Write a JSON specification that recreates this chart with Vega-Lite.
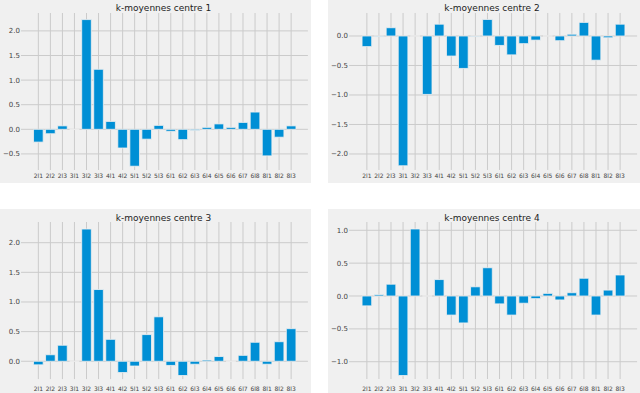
{
  "$schema": "https://vega.github.io/schema/vega-lite/v6.json",
  "background": "white",
  "padding": 0,
  "columns": 2,
  "spacing": {"row": 26, "column": 17},
  "bounds": "flush",
  "datasets": {
    "km": [
      {"centre": 1, "var": "2l1", "value": -0.26}, {"centre": 1, "var": "2l2", "value": -0.09}, {"centre": 1, "var": "2l3", "value": 0.07},
      {"centre": 1, "var": "3l1", "value": 0}, {"centre": 1, "var": "3l2", "value": 2.23}, {"centre": 1, "var": "3l3", "value": 1.22},
      {"centre": 1, "var": "4l1", "value": 0.16}, {"centre": 1, "var": "4l2", "value": -0.38}, {"centre": 1, "var": "5l1", "value": -0.75},
      {"centre": 1, "var": "5l2", "value": -0.2}, {"centre": 1, "var": "5l3", "value": 0.08}, {"centre": 1, "var": "6l1", "value": -0.04},
      {"centre": 1, "var": "6l2", "value": -0.21}, {"centre": 1, "var": "6l3", "value": -0.02}, {"centre": 1, "var": "6l4", "value": 0.04},
      {"centre": 1, "var": "6l5", "value": 0.11}, {"centre": 1, "var": "6l6", "value": 0.04}, {"centre": 1, "var": "6l7", "value": 0.14},
      {"centre": 1, "var": "6l8", "value": 0.35}, {"centre": 1, "var": "8l1", "value": -0.54}, {"centre": 1, "var": "8l2", "value": -0.16},
      {"centre": 1, "var": "8l3", "value": 0.07},
      {"centre": 2, "var": "2l1", "value": -0.18}, {"centre": 2, "var": "2l2", "value": -0.01}, {"centre": 2, "var": "2l3", "value": 0.14},
      {"centre": 2, "var": "3l1", "value": -2.2}, {"centre": 2, "var": "3l2", "value": 0}, {"centre": 2, "var": "3l3", "value": -0.99},
      {"centre": 2, "var": "4l1", "value": 0.2}, {"centre": 2, "var": "4l2", "value": -0.34}, {"centre": 2, "var": "5l1", "value": -0.55},
      {"centre": 2, "var": "5l2", "value": -0.01}, {"centre": 2, "var": "5l3", "value": 0.28}, {"centre": 2, "var": "6l1", "value": -0.16},
      {"centre": 2, "var": "6l2", "value": -0.32}, {"centre": 2, "var": "6l3", "value": -0.13}, {"centre": 2, "var": "6l4", "value": -0.07},
      {"centre": 2, "var": "6l5", "value": 0}, {"centre": 2, "var": "6l6", "value": -0.08}, {"centre": 2, "var": "6l7", "value": 0.03},
      {"centre": 2, "var": "6l8", "value": 0.23}, {"centre": 2, "var": "8l1", "value": -0.41}, {"centre": 2, "var": "8l2", "value": -0.03},
      {"centre": 2, "var": "8l3", "value": 0.2},
      {"centre": 3, "var": "2l1", "value": -0.06}, {"centre": 3, "var": "2l2", "value": 0.11}, {"centre": 3, "var": "2l3", "value": 0.27},
      {"centre": 3, "var": "3l1", "value": 0}, {"centre": 3, "var": "3l2", "value": 2.23}, {"centre": 3, "var": "3l3", "value": 1.21},
      {"centre": 3, "var": "4l1", "value": 0.37}, {"centre": 3, "var": "4l2", "value": -0.19}, {"centre": 3, "var": "5l1", "value": -0.08},
      {"centre": 3, "var": "5l2", "value": 0.45}, {"centre": 3, "var": "5l3", "value": 0.75}, {"centre": 3, "var": "6l1", "value": -0.07},
      {"centre": 3, "var": "6l2", "value": -0.24}, {"centre": 3, "var": "6l3", "value": -0.05}, {"centre": 3, "var": "6l4", "value": 0.02},
      {"centre": 3, "var": "6l5", "value": 0.08}, {"centre": 3, "var": "6l6", "value": 0}, {"centre": 3, "var": "6l7", "value": 0.1},
      {"centre": 3, "var": "6l8", "value": 0.32}, {"centre": 3, "var": "8l1", "value": -0.05}, {"centre": 3, "var": "8l2", "value": 0.33},
      {"centre": 3, "var": "8l3", "value": 0.55},
      {"centre": 4, "var": "2l1", "value": -0.15}, {"centre": 4, "var": "2l2", "value": 0.02}, {"centre": 4, "var": "2l3", "value": 0.18},
      {"centre": 4, "var": "3l1", "value": -1.21}, {"centre": 4, "var": "3l2", "value": 1.02}, {"centre": 4, "var": "3l3", "value": 0},
      {"centre": 4, "var": "4l1", "value": 0.25}, {"centre": 4, "var": "4l2", "value": -0.29}, {"centre": 4, "var": "5l1", "value": -0.41},
      {"centre": 4, "var": "5l2", "value": 0.14}, {"centre": 4, "var": "5l3", "value": 0.43}, {"centre": 4, "var": "6l1", "value": -0.12},
      {"centre": 4, "var": "6l2", "value": -0.29}, {"centre": 4, "var": "6l3", "value": -0.11}, {"centre": 4, "var": "6l4", "value": -0.04},
      {"centre": 4, "var": "6l5", "value": 0.04}, {"centre": 4, "var": "6l6", "value": -0.06}, {"centre": 4, "var": "6l7", "value": 0.05},
      {"centre": 4, "var": "6l8", "value": 0.27}, {"centre": 4, "var": "8l1", "value": -0.29}, {"centre": 4, "var": "8l2", "value": 0.09},
      {"centre": 4, "var": "8l3", "value": 0.32}
    ],
    "ticks": [
      {"centre": 1, "tick": -0.5}, {"centre": 1, "tick": 0}, {"centre": 1, "tick": 0.5}, {"centre": 1, "tick": 1}, {"centre": 1, "tick": 1.5}, {"centre": 1, "tick": 2},
      {"centre": 2, "tick": -2}, {"centre": 2, "tick": -1.5}, {"centre": 2, "tick": -1}, {"centre": 2, "tick": -0.5}, {"centre": 2, "tick": 0},
      {"centre": 3, "tick": 0}, {"centre": 3, "tick": 0.5}, {"centre": 3, "tick": 1}, {"centre": 3, "tick": 1.5}, {"centre": 3, "tick": 2},
      {"centre": 4, "tick": -1}, {"centre": 4, "tick": -0.5}, {"centre": 4, "tick": 0}, {"centre": 4, "tick": 0.5}, {"centre": 4, "tick": 1}
    ]
  },
  "concat": [
    {
      "width": 311, "height": 183,
      "title": {"text": "k-moyennes centre 1", "offset": -12.5},
      "layer": [
        {"data": {"name": "km"}, "transform": [{"filter": "datum.centre == 1"}],
         "mark": {"type": "rule", "color": "#cbcbcb", "strokeWidth": 1},
         "encoding": {"x": {"field": "var", "type": "nominal", "title": null,
                            "scale": {"domain": ["2l1","2l2","2l3","3l1","3l2","3l3","4l1","4l2","5l1","5l2","5l3","6l1","6l2","6l3","6l4","6l5","6l6","6l7","6l8","8l1","8l2","8l3"], "range": [21.5, 308], "paddingInner": 0.2, "paddingOuter": 1, "align": 0.5}},
                      "y": {"datum": 2.364, "axis": {"values": [-0.5, 0, 0.5, 1, 1.5, 2], "format": ".1f", "offset": -19.5, "labelOverlap": false}},
                      "y2": {"datum": -0.827}}},
        {"data": {"name": "ticks"}, "transform": [{"filter": "datum.centre == 1"}],
         "mark": {"type": "rule", "color": "#cbcbcb", "strokeWidth": 1},
         "encoding": {"y": {"field": "tick", "type": "quantitative", "title": null,
                            "axis": {"values": [-0.5, 0, 0.5, 1, 1.5, 2], "format": ".1f", "offset": -19.5, "labelOverlap": false}},
                      "x": {"datum": "2l1", "bandPosition": -1.3}, "x2": {"datum": "8l3", "bandPosition": 2.24}}},
        {"data": {"name": "km"}, "transform": [{"filter": "datum.centre == 1"}],
         "mark": {"type": "bar", "color": "#008fd5", "stroke": "#f0f0f0", "strokeWidth": 0.8},
         "encoding": {
           "x": {"field": "var", "type": "nominal", "title": null,
                 "scale": {"domain": ["2l1","2l2","2l3","3l1","3l2","3l3","4l1","4l2","5l1","5l2","5l3","6l1","6l2","6l3","6l4","6l5","6l6","6l7","6l8","8l1","8l2","8l3"], "range": [21.5, 308], "paddingInner": 0.2, "paddingOuter": 1, "align": 0.5},
                 "axis": {"offset": -11}},
           "y": {"field": "value", "type": "quantitative", "title": null,
                 "scale": {"domain": [-1.091, 2.628], "nice": false, "zero": false},
                 "axis": {"values": [-0.5, 0, 0.5, 1, 1.5, 2], "format": ".1f", "offset": -19.5, "labelOverlap": false}}
         }}
      ]
    },
    {
      "width": 312, "height": 183,
      "title": {"text": "k-moyennes centre 2", "offset": -12.5},
      "layer": [
        {"data": {"name": "km"}, "transform": [{"filter": "datum.centre == 2"}],
         "mark": {"type": "rule", "color": "#cbcbcb", "strokeWidth": 1},
         "encoding": {"x": {"field": "var", "type": "nominal", "title": null,
                            "scale": {"domain": ["2l1","2l2","2l3","3l1","3l2","3l3","4l1","4l2","5l1","5l2","5l3","6l1","6l2","6l3","6l4","6l5","6l6","6l7","6l8","8l1","8l2","8l3"], "range": [22, 309], "paddingInner": 0.2, "paddingOuter": 1, "align": 0.5}},
                      "y": {"datum": 0.39}, "y2": {"datum": -2.271}}},
        {"data": {"name": "ticks"}, "transform": [{"filter": "datum.centre == 2"}],
         "mark": {"type": "rule", "color": "#cbcbcb", "strokeWidth": 1},
         "encoding": {"y": {"field": "tick", "type": "quantitative", "title": null},
                      "x": {"datum": "2l1", "bandPosition": -1.34}, "x2": {"datum": "8l3", "bandPosition": 2.26}}},
        {"data": {"name": "km"}, "transform": [{"filter": "datum.centre == 2"}],
         "mark": {"type": "bar", "color": "#008fd5", "stroke": "#f0f0f0", "strokeWidth": 0.8},
         "encoding": {
           "x": {"field": "var", "type": "nominal", "title": null,
                 "scale": {"domain": ["2l1","2l2","2l3","3l1","3l2","3l3","4l1","4l2","5l1","5l2","5l3","6l1","6l2","6l3","6l4","6l5","6l6","6l7","6l8","8l1","8l2","8l3"], "range": [22, 309], "paddingInner": 0.2, "paddingOuter": 1, "align": 0.5},
                 "axis": {"offset": -11}},
           "y": {"field": "value", "type": "quantitative", "title": null,
                 "scale": {"domain": [-2.492, 0.61], "nice": false, "zero": false},
                 "axis": {"values": [-2, -1.5, -1, -0.5, 0], "format": ".1f", "offset": -19.5, "labelOverlap": false}}
         }}
      ]
    },
    {
      "width": 311, "height": 184,
      "title": {"text": "k-moyennes centre 3", "offset": -14},
      "layer": [
        {"data": {"name": "km"}, "transform": [{"filter": "datum.centre == 3"}],
         "mark": {"type": "rule", "color": "#cbcbcb", "strokeWidth": 1},
         "encoding": {"x": {"field": "var", "type": "nominal", "title": null,
                            "scale": {"domain": ["2l1","2l2","2l3","3l1","3l2","3l3","4l1","4l2","5l1","5l2","5l3","6l1","6l2","6l3","6l4","6l5","6l6","6l7","6l8","8l1","8l2","8l3"], "range": [21.5, 308], "paddingInner": 0.2, "paddingOuter": 1, "align": 0.5}},
                      "y": {"datum": 2.349}, "y2": {"datum": -0.3}}},
        {"data": {"name": "ticks"}, "transform": [{"filter": "datum.centre == 3"}],
         "mark": {"type": "rule", "color": "#cbcbcb", "strokeWidth": 1},
         "encoding": {"y": {"field": "tick", "type": "quantitative", "title": null},
                      "x": {"datum": "2l1", "bandPosition": -1.3}, "x2": {"datum": "8l3", "bandPosition": 2.24}}},
        {"data": {"name": "km"}, "transform": [{"filter": "datum.centre == 3"}],
         "mark": {"type": "bar", "color": "#008fd5", "stroke": "#f0f0f0", "strokeWidth": 0.8},
         "encoding": {
           "x": {"field": "var", "type": "nominal", "title": null,
                 "scale": {"domain": ["2l1","2l2","2l3","3l1","3l2","3l3","4l1","4l2","5l1","5l2","5l3","6l1","6l2","6l3","6l4","6l5","6l6","6l7","6l8","8l1","8l2","8l3"], "range": [21.5, 308], "paddingInner": 0.2, "paddingOuter": 1, "align": 0.5},
                 "axis": {"offset": -8}},
           "y": {"field": "value", "type": "quantitative", "title": null,
                 "scale": {"domain": [-0.535, 2.568], "nice": false, "zero": false},
                 "axis": {"values": [0, 0.5, 1, 1.5, 2], "format": ".1f", "offset": -19.5, "labelOverlap": false}}
         }}
      ]
    },
    {
      "width": 312, "height": 184,
      "title": {"text": "k-moyennes centre 4", "offset": -14},
      "layer": [
        {"data": {"name": "km"}, "transform": [{"filter": "datum.centre == 4"}],
         "mark": {"type": "rule", "color": "#cbcbcb", "strokeWidth": 1},
         "encoding": {"x": {"field": "var", "type": "nominal", "title": null,
                            "scale": {"domain": ["2l1","2l2","2l3","3l1","3l2","3l3","4l1","4l2","5l1","5l2","5l3","6l1","6l2","6l3","6l4","6l5","6l6","6l7","6l8","8l1","8l2","8l3"], "range": [22, 309], "paddingInner": 0.2, "paddingOuter": 1, "align": 0.5}},
                      "y": {"datum": 1.126}, "y2": {"datum": -1.263}}},
        {"data": {"name": "ticks"}, "transform": [{"filter": "datum.centre == 4"}],
         "mark": {"type": "rule", "color": "#cbcbcb", "strokeWidth": 1},
         "encoding": {"y": {"field": "tick", "type": "quantitative", "title": null},
                      "x": {"datum": "2l1", "bandPosition": -1.34}, "x2": {"datum": "8l3", "bandPosition": 2.26}}},
        {"data": {"name": "km"}, "transform": [{"filter": "datum.centre == 4"}],
         "mark": {"type": "bar", "color": "#008fd5", "stroke": "#f0f0f0", "strokeWidth": 0.8},
         "encoding": {
           "x": {"field": "var", "type": "nominal", "title": null,
                 "scale": {"domain": ["2l1","2l2","2l3","3l1","3l2","3l3","4l1","4l2","5l1","5l2","5l3","6l1","6l2","6l3","6l4","6l5","6l6","6l7","6l8","8l1","8l2","8l3"], "range": [22, 309], "paddingInner": 0.2, "paddingOuter": 1, "align": 0.5},
                 "axis": {"offset": -8}},
           "y": {"field": "value", "type": "quantitative", "title": null,
                 "scale": {"domain": [-1.476, 1.324], "nice": false, "zero": false},
                 "axis": {"values": [-1, -0.5, 0, 0.5, 1], "format": ".1f", "offset": -19.5, "labelOverlap": false}}
         }}
      ]
    }
  ],
  "config": {
    "view": {"stroke": null, "fill": "#f0f0f0"},
    "font": "DejaVu Sans",
    "axis": {"domain": false, "ticks": false, "tickSize": 0, "grid": false, "labelPadding": 0,
             "labelFont": "DejaVu Sans", "labelColor": "#444", "labelOverlap": false},
    "axisY": {"labelFontSize": 7},
    "axisX": {"labelFontSize": 6, "labelAngle": 0},
    "title": {"font": "DejaVu Sans", "fontSize": 9, "fontWeight": "normal", "color": "#222", "anchor": "middle", "baseline": "alphabetic", "dx": 8}
  }
}
